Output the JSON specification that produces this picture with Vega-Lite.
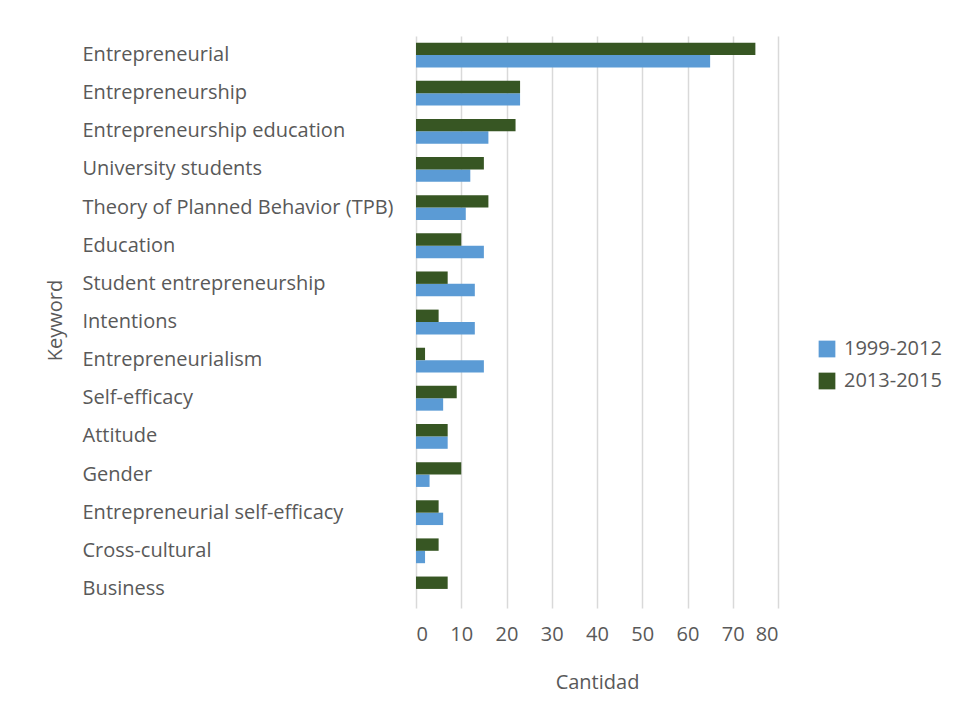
{
  "$schema": "https://vega.github.io/schema/vega-lite/v6.json",
  "autosize": {"type": "none"},
  "width": 362,
  "height": 572,
  "padding": {"left": 416, "top": 36, "right": 178, "bottom": 107},
  "background": "white",
  "config": {
    "font": "Open Sans",
    "view": {"stroke": null},
    "axis": {"labelColor": "#595959", "titleColor": "#595959", "labelFont": "Open Sans", "titleFont": "Open Sans", "titleFontWeight": "normal"},
    "legend": {"labelColor": "#595959", "labelFont": "Open Sans"}
  },
  "data": {
    "values": [
      {"keyword": "Entrepreneurial", "series": "1999-2012", "value": 65},
      {"keyword": "Entrepreneurial", "series": "2013-2015", "value": 75},
      {"keyword": "Entrepreneurship", "series": "1999-2012", "value": 23},
      {"keyword": "Entrepreneurship", "series": "2013-2015", "value": 23},
      {"keyword": "Entrepreneurship education", "series": "1999-2012", "value": 16},
      {"keyword": "Entrepreneurship education", "series": "2013-2015", "value": 22},
      {"keyword": "University students", "series": "1999-2012", "value": 12},
      {"keyword": "University students", "series": "2013-2015", "value": 15},
      {"keyword": "Theory of Planned Behavior (TPB)", "series": "1999-2012", "value": 11},
      {"keyword": "Theory of Planned Behavior (TPB)", "series": "2013-2015", "value": 16},
      {"keyword": "Education", "series": "1999-2012", "value": 15},
      {"keyword": "Education", "series": "2013-2015", "value": 10},
      {"keyword": "Student entrepreneurship", "series": "1999-2012", "value": 13},
      {"keyword": "Student entrepreneurship", "series": "2013-2015", "value": 7},
      {"keyword": "Intentions", "series": "1999-2012", "value": 13},
      {"keyword": "Intentions", "series": "2013-2015", "value": 5},
      {"keyword": "Entrepreneurialism", "series": "1999-2012", "value": 15},
      {"keyword": "Entrepreneurialism", "series": "2013-2015", "value": 2},
      {"keyword": "Self-efficacy", "series": "1999-2012", "value": 6},
      {"keyword": "Self-efficacy", "series": "2013-2015", "value": 9},
      {"keyword": "Attitude", "series": "1999-2012", "value": 7},
      {"keyword": "Attitude", "series": "2013-2015", "value": 7},
      {"keyword": "Gender", "series": "1999-2012", "value": 3},
      {"keyword": "Gender", "series": "2013-2015", "value": 10},
      {"keyword": "Entrepreneurial self-efficacy", "series": "1999-2012", "value": 6},
      {"keyword": "Entrepreneurial self-efficacy", "series": "2013-2015", "value": 5},
      {"keyword": "Cross-cultural", "series": "1999-2012", "value": 2},
      {"keyword": "Cross-cultural", "series": "2013-2015", "value": 5},
      {"keyword": "Business", "series": "1999-2012", "value": 0},
      {"keyword": "Business", "series": "2013-2015", "value": 7}
    ]
  },
  "mark": {"type": "bar"},
  "encoding": {
    "y": {
      "field": "keyword",
      "type": "nominal",
      "sort": null,
      "scale": {"paddingInner": 0.35, "paddingOuter": 0.175},
      "axis": {
        "title": "Keyword",
        "titleFontSize": 20,
        "titleX": -351,
        "titleY": 284,
        "titleAngle": -90,
        "titleAlign": "center",
        "labelAlign": "left",
        "labelPadding": 334,
        "labelFontSize": 20,
        "labelLimit": 400,
        "ticks": false,
        "domain": false,
        "grid": false
      }
    },
    "yOffset": {
      "field": "series",
      "type": "nominal",
      "sort": ["2013-2015", "1999-2012"]
    },
    "x": {
      "field": "value",
      "type": "quantitative",
      "scale": {"domain": [0, 80], "nice": false},
      "axis": {
        "title": "Cantidad",
        "titleFontSize": 20,
        "titlePadding": 28,
        "values": [0, 10, 20, 30, 40, 50, 60, 70, 80],
        "labelFontSize": 20,
        "labelPadding": 16,
        "ticks": false,
        "domain": false,
        "grid": true,
        "gridColor": "#d9d9d9",
        "gridWidth": 1.5
      }
    },
    "color": {
      "field": "series",
      "type": "nominal",
      "scale": {"domain": ["1999-2012", "2013-2015"], "range": ["#5b9bd5", "#375623"]},
      "legend": {
        "title": null,
        "orient": "none",
        "legendX": 401,
        "legendY": 303,
        "symbolType": "square",
        "symbolSize": 280,
        "symbolStrokeWidth": 0,
        "labelFontSize": 20,
        "labelOffset": 7,
        "rowPadding": 12
      }
    }
  }
}
